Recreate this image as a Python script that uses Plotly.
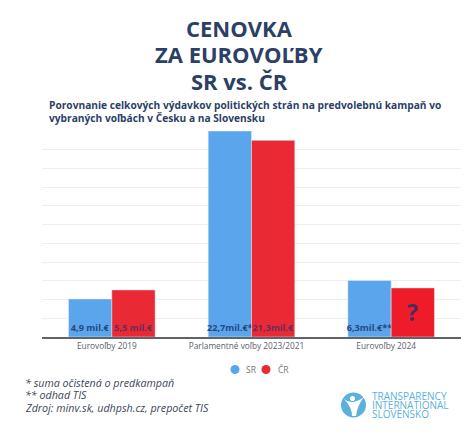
import plotly.graph_objects as go

categories = ["Eurovoľby 2019", "Parlamentné voľby 2023/2021", "Eurovoľby 2024"]
sr_values = [4.06, 22.0, 6.04]
cr_values = [5.03, 21.0, 5.24]
sr_labels = ["4,9 mil.€", "22,7mil.€*", "6,3mil.€**"]
cr_labels = ["5,5 mil.€", "21,3mil.€", ""]
grid_ticks = list(range(0, 24, 2))
title_lines = ["CENOVKA", "ZA EUROVOĽBY", "SR vs. ČR"]
subtitle_lines = ["Porovnanie celkových výdavkov politických strán na predvolebnú kampaň vo",
                  "vybraných voľbách v Česku a na Slovensku"]
foot_lines = ["* suma očistená o predkampaň", "** odhad TIS", "Zdroj: minv.sk, udhpsh.cz, prepočet TIS"]
logo_lines = ["TRANSPARENCY", "INTERNATIONAL", "SLOVENSKO"]
legend_names = ["SR", "ČR"]

W, H = 474, 438
L, R, T, B = 42, 13, 131, 101
NAVY = "#2c3f66"
BLUE = "#5aa5ec"
RED = "#e92a35"
RED_LAST = "#ee1c28"
LOGO = "#5bb0dc"
FONT = "Open Sans"

def px(x):
    return (x - L) / (W - L - R)

def py(y):
    return 1 - (y - T) / (H - T - B)

fig = go.Figure()
fig.add_bar(x=categories, y=sr_values, name="SR", marker_color=BLUE, showlegend=False,
            text=sr_labels, textposition="inside", insidetextanchor="start", textangle=0,
            constraintext="none", textfont=dict(family=FONT, size=9.2, color="#27477f", weight=700),
            cliponaxis=False)
fig.add_bar(x=categories, y=cr_values, name="ČR", marker_color=[RED, RED, RED_LAST], showlegend=False,
            text=cr_labels, textposition="inside", insidetextanchor="start", textangle=0,
            constraintext="none", textfont=dict(family=FONT, size=9.2, color="#6b2a5c", weight=700),
            cliponaxis=False)

ann = []
def text(x, y, s, size, color=NAVY, weight=400, anchor="left", style="normal", family=FONT):
    ann.append(dict(x=px(x), y=py(y), xref="paper", yref="paper", text=s, showarrow=False,
                    xanchor=anchor, yanchor="middle",
                    font=dict(family=family, size=size, color=color, weight=weight, style=style)))

for s, y in zip(title_lines, (28, 54, 81)):
    text(239, y, s, 22, weight=700, anchor="center")
for s, y in zip(subtitle_lines, (105, 118)):
    text(47, y, s, 10.2, weight=700)
for s, y in zip(foot_lines, (383, 395, 408)):
    text(23, y, s, 10.7, color="#3c4658", style="italic")
for s, y in zip(logo_lines, (396, 405, 414)):
    text(370, y, s, 10, color=LOGO, weight=500)
ann.append(dict(x=categories[2], y=cr_values[2] / 2, xref="x", yref="y", xshift=21.5, text="?",
                showarrow=False, font=dict(family=FONT, size=23, color="#4a2a66", weight=700)))
for s, x in zip(legend_names, (244, 276)):
    text(x, 369.5, s, 8.5, color="#777777")

shapes = [
    dict(type="circle", xref="paper", yref="paper", x0=px(341), x1=px(366), y0=py(417.5), y1=py(392.5),
         fillcolor=LOGO, line_width=0),
    dict(type="circle", xref="paper", yref="paper", x0=px(350), x1=px(355), y0=py(401), y1=py(396),
         fillcolor="white", line_width=0),
    dict(type="path", xref="paper", yref="paper",
         path=f"M {px(344)} {py(399)} Q {px(352)} {py(406)} {px(364)} {py(397)} "
              f"Q {px(357)} {py(406)} {px(356)} {py(416)} L {px(352)} {py(416)} "
              f"Q {px(352)} {py(407)} {px(344)} {py(399)} Z",
         fillcolor="white", line_width=0),
]
for color, cx in zip((BLUE, RED), (235, 266)):
    shapes.append(dict(type="circle", xref="paper", yref="paper", x0=px(cx - 4.5), x1=px(cx + 4.5),
                       y0=py(374), y1=py(365), fillcolor=color, line_width=0))

fig.update_layout(
    width=W, height=H, autosize=False, margin=dict(l=L, r=R, t=T, b=B),
    paper_bgcolor="white", plot_bgcolor="white", showlegend=False,
    barmode="group", bargap=0.38, bargroupgap=0,
    annotations=ann, shapes=shapes,
    xaxis=dict(type="category", categoryorder="array", categoryarray=categories,
               showline=True, linecolor="#5f6468", linewidth=1.5, ticks="", showgrid=False,
               ticklabelshift=-5, tickfont=dict(family=FONT, size=8.3, color="#5a6068")),
    yaxis=dict(range=[0, 22], tickmode="array", tickvals=grid_ticks, showticklabels=False,
               gridcolor="#eeeeee", gridwidth=1, zeroline=False),
)
fig.write_html("out.html", config={"displayModeBar": False},
               post_script="document.body.style.margin='0';")
